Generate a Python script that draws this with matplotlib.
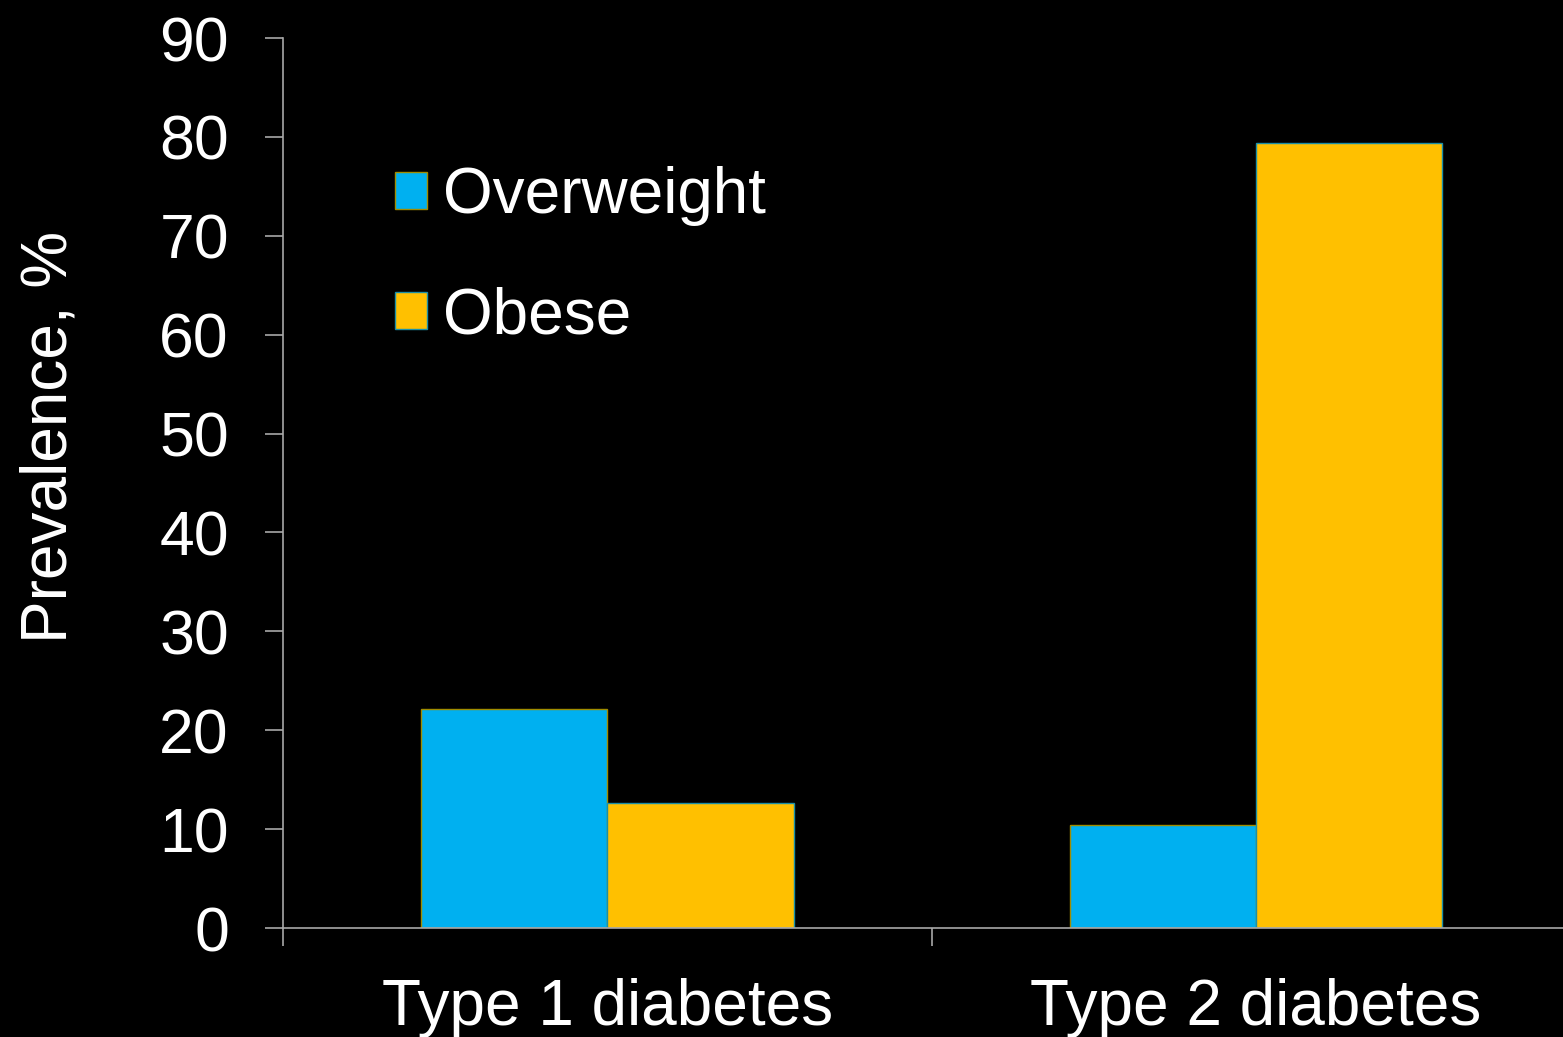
import numpy as np
import matplotlib
matplotlib.use("Agg")
import matplotlib.pyplot as plt

categories = ["Type 1 diabetes", "Type 2 diabetes"]
overweight = [22.1, 10.4]
obese = [12.6, 79.4]
yticks = [0, 10, 20, 30, 40, 50, 60, 70, 80, 90]

plt.rcParams['font.family'] = ['Liberation Sans', 'DejaVu Sans']

fig = plt.figure(figsize=(15.63, 10.37), dpi=100, facecolor='black')
ax = fig.add_axes([0.1811, 0.1051, 0.830, 0.8582], facecolor='black')

x = np.arange(len(categories))
w = 0.287
ax.bar(x - w / 2, overweight, w, color='#00B0F0', edgecolor='#A08C00', linewidth=1, label='Overweight')
ax.bar(x + w / 2, obese, w, color='#FFC000', edgecolor='#1A8FA8', linewidth=1, label='Obese')

ax.set_xlim(-0.5, 1.5)
ax.set_ylim(0, 90)
ax.set_yticks(yticks)
ax.set_yticklabels([str(v) for v in yticks])

# boundary ticks as majors, labels as minors at centers
ax.set_xticks([-0.5, 0.5])
ax.set_xticklabels(['', ''])
ax.set_xticks(x, minor=True)
ax.set_xticklabels(categories, minor=True)

for s in ['top', 'right']:
    ax.spines[s].set_visible(False)
for s in ['left', 'bottom']:
    ax.spines[s].set_color('#A8A8A8')
    ax.spines[s].set_linewidth(1.2)

ax.tick_params(axis='y', colors='#A8A8A8', labelcolor='white', length=13, width=1.2,
               labelsize=45, pad=26)
ax.tick_params(axis='x', which='major', colors='#A8A8A8', length=13, width=1.2)
ax.tick_params(axis='x', which='minor', length=0, labelcolor='white', labelsize=46, pad=36)

ax.set_ylabel('Prevalence, %', color='white', fontsize=46)
ax.yaxis.set_label_coords(-0.157, 0.552)

ax.legend(loc='upper left', bbox_to_anchor=(395 / 1563, 1 - 166 / 1037),
          bbox_transform=fig.transFigure, frameon=False, fontsize=46,
          labelcolor='white', handlelength=0.5, handleheight=0.5,
          handletextpad=0.25, labelspacing=0.94, borderpad=0, borderaxespad=0)

fig.savefig('out.png', dpi=100, facecolor='black')
